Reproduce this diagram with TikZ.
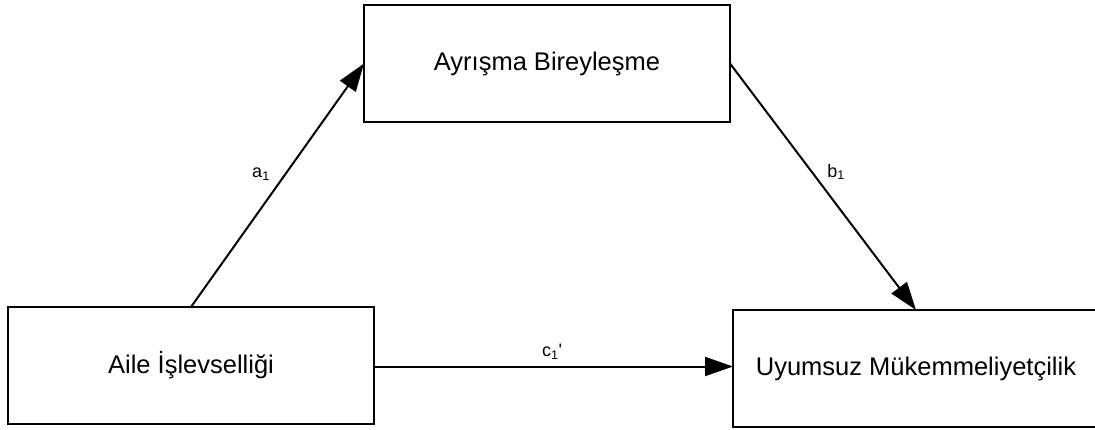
\documentclass[tikz,border=0pt]{standalone}
\usepackage{fontspec}
\setmainfont{Liberation Sans}
\usetikzlibrary{arrows.meta}
\begin{document}
\begin{tikzpicture}[x=1pt,y=-1pt,
  varbox/.style={draw=black, line width=2.4pt, minimum width=366pt, minimum height=117pt,
    inner sep=0pt, outer sep=0pt, font=\fontsize{25.5}{30}\selectfont, anchor=north west},
  path/.style={line width=2pt, -{Triangle[length=28pt,width=19pt]}},
  lbl/.style={font=\fontsize{18}{21}\selectfont, inner sep=0pt}]
\useasboundingbox (0,0) rectangle (1095,430);
\node[varbox] (aile) at (8,307) {Aile İşlevselliği};
\node[varbox] (ayr) at (364,5) {Ayrışma Bireyleşme};
\node[varbox] (uyum) at (733,310) {Uyumsuz Mükemmeliyetçilik};
\draw[path] (aile.north) -- (ayr.west);
\draw[path] (ayr.east) -- (uyum.north);
\draw[path] ([yshift=-1pt]aile.east) -- ([yshift=-1pt]aile.east -| uyum.west);
\node[lbl] (la) at (261,174) {a\textsubscript{1}};
\node[lbl] (lb) at (836,172) {b\textsubscript{1}};
\node[lbl] (lc) at (552,352) {c\textsubscript{1}\textquotesingle};
\end{tikzpicture}
\end{document}
